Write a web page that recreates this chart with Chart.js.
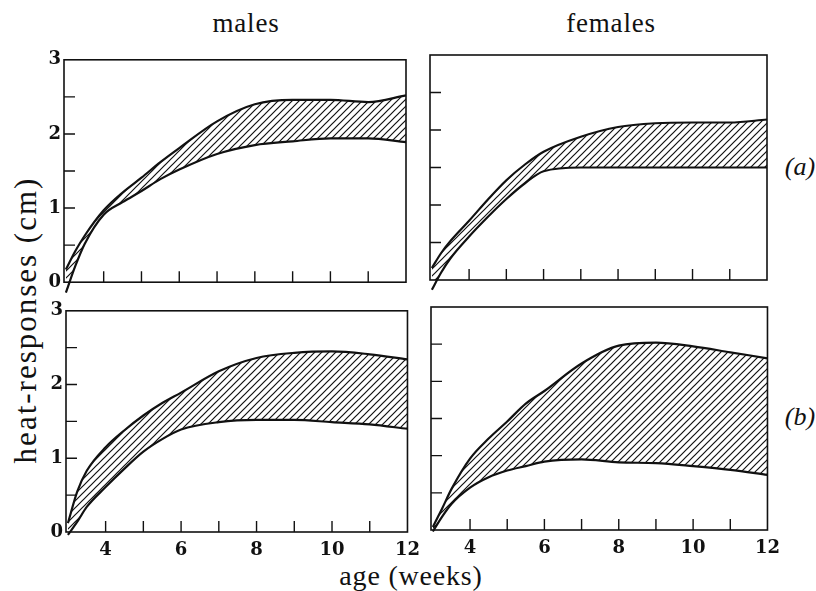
<!DOCTYPE html>
<html>
<head>
<meta charset="utf-8">
<script src="https://cdn.jsdelivr.net/npm/chart.js@4.4.1/dist/chart.umd.min.js"></script>
<style>
  html, body { margin: 0; padding: 0; background: #fff; }
  #wrap { position: relative; width: 816px; height: 591px; overflow: hidden; }
  canvas { position: absolute; }
  .txt { position: absolute; font-family: "Liberation Serif", "Times New Roman", serif; color: #111; white-space: nowrap; line-height: 1; }
</style>
</head>
<body>
<div id="wrap">
  <div class="txt" style="left:246px; top:10px; font-size:27px; transform:translateX(-50%); letter-spacing:0.8px;">males</div>
  <div class="txt" style="left:611px; top:10px; font-size:27px; transform:translateX(-50%); letter-spacing:0.8px;">females</div>
  <div class="txt" style="left:25px; top:320px; font-size:31px; transform:translate(-50%,-50%) rotate(-90deg); letter-spacing:2px;">heat-responses (cm)</div>
  <div class="txt" style="left:411px; top:562px; font-size:28px; transform:translateX(-50%); letter-spacing:0.8px;">age (weeks)</div>
  <div class="txt" style="left:800px; top:167px; font-size:26px; font-style:italic; transform:translate(-50%,-50%);">(a)</div>
  <div class="txt" style="left:800px; top:417px; font-size:26px; font-style:italic; transform:translate(-50%,-50%);">(b)</div>

  <canvas id="c-ma" width="422" height="250" style="left:4px; top:46px;"></canvas>
  <canvas id="c-fa" width="367" height="249" style="left:420px; top:43px;"></canvas>
  <canvas id="c-mb" width="422" height="267" style="left:6px; top:297px;"></canvas>
  <canvas id="c-fb" width="367" height="267" style="left:421px; top:295px;"></canvas>
</div>

<script>
// ages (weeks) at which the band edges were read
const weeks = [3, 3.25, 3.5, 4, 4.5, 5, 5.5, 6, 7, 8, 9, 10, 11, 12];

// (a) males
const malesA_upper = [0.17, 0.42, 0.63, 0.97, 1.21, 1.41, 1.62, 1.81, 2.17, 2.40, 2.46, 2.46, 2.43, 2.52];
const malesA_lower = [-0.14, 0.22, 0.52, 0.91, 1.08, 1.23, 1.39, 1.52, 1.73, 1.85, 1.90, 1.94, 1.94, 1.89];
// (a) females
const femalesA_upper = [0.16, 0.36, 0.52, 0.79, 1.07, 1.33, 1.54, 1.71, 1.91, 2.04, 2.09, 2.10, 2.10, 2.14];
const femalesA_lower = [-0.13, 0.10, 0.29, 0.58, 0.84, 1.08, 1.29, 1.45, 1.50, 1.50, 1.50, 1.50, 1.50, 1.50];
// (b) males
const malesB_upper = [0.12, 0.55, 0.83, 1.15, 1.38, 1.58, 1.75, 1.89, 2.18, 2.36, 2.43, 2.45, 2.41, 2.34];
const malesB_lower = [-0.04, 0.14, 0.34, 0.61, 0.86, 1.09, 1.26, 1.39, 1.49, 1.52, 1.52, 1.49, 1.46, 1.40];
// (b) females
const femalesB_upper = [0.04, 0.29, 0.55, 0.96, 1.23, 1.46, 1.70, 1.87, 2.24, 2.48, 2.52, 2.47, 2.39, 2.31];
const femalesB_lower = [-0.02, 0.18, 0.35, 0.57, 0.71, 0.80, 0.86, 0.92, 0.95, 0.91, 0.90, 0.86, 0.81, 0.74];

// tick labels and tick marks
const xLabels = [4, 6, 8, 10, 12];
const xTickMarks = [4, 5, 6, 7, 8, 9, 10, 11];
const yLabels = [0, 1, 2, 3];
const yTickMarks = [0.5, 1, 1.5, 2, 2.5];

const INK = '#111';

// diagonal "////" hatching for the band
function makeHatch(s) {
  const c = document.createElement('canvas');
  c.width = c.height = s;
  const g = c.getContext('2d');
  g.strokeStyle = INK;
  g.lineWidth = 1.2;
  g.beginPath();
  g.moveTo(0, s); g.lineTo(s, 0);
  g.moveTo(-s / 2, s / 2); g.lineTo(s / 2, -s / 2);
  g.moveTo(s / 2, s * 1.5); g.lineTo(s * 1.5, s / 2);
  g.stroke();
  return g.createPattern(c, 'repeat');
}
const hatch = makeHatch(7);

// frame + inward tick marks
const framePlugin = {
  id: 'frame',
  afterDatasetsDraw(chart) {
    const { ctx, chartArea: a, scales } = chart;
    ctx.save();
    ctx.strokeStyle = INK;
    ctx.lineWidth = 1.6;
    ctx.strokeRect(a.left, a.top, a.right - a.left, a.bottom - a.top);
    ctx.lineWidth = 1.4;
    ctx.beginPath();
    yTickMarks.forEach(v => {
      const y = scales.y.getPixelForValue(v);
      ctx.moveTo(a.left, y); ctx.lineTo(a.left + 11, y);
    });
    xTickMarks.forEach(v => {
      const x = scales.x.getPixelForValue(v);
      ctx.moveTo(x, a.bottom); ctx.lineTo(x, a.bottom - 11);
    });
    ctx.stroke();
    ctx.restore();
  }
};

function band(upper, lower) {
  const line = {
    borderColor: INK,
    borderWidth: 2.2,
    pointRadius: 0,
    cubicInterpolationMode: 'monotone',
    clip: false
  };
  return [
    Object.assign({ data: weeks.map((w, i) => ({ x: w, y: upper[i] })), fill: '+1', backgroundColor: hatch }, line),
    Object.assign({ data: weeks.map((w, i) => ({ x: w, y: lower[i] })), fill: false }, line)
  ];
}

function makePanel(id, upper, lower, o) {
  new Chart(document.getElementById(id), {
    type: 'line',
    data: { datasets: band(upper, lower) },
    plugins: [framePlugin],
    options: {
      responsive: false,
      animation: false,
      events: [],
      layout: { padding: { top: 12, right: 20, left: 0, bottom: 0 } },
      plugins: { legend: { display: false }, tooltip: { enabled: false } },
      scales: {
        x: {
          type: 'linear', min: 2.95, max: 12,
          grid: { display: false, drawTicks: false },
          border: { display: false },
          afterBuildTicks: s => { s.ticks = xLabels.map(v => ({ value: v })); },
          afterFit: s => { s.height = o.bottom; },
          ticks: {
            display: o.xLabels, color: INK, padding: 8, maxRotation: 0, autoSkip: false,
            font: { family: 'DejaVu Serif', weight: 'bold', size: 18 }
          }
        },
        y: {
          min: 0, max: 3,
          grid: { display: false, drawTicks: false },
          border: { display: false },
          afterBuildTicks: s => { s.ticks = yLabels.map(v => ({ value: v })); },
          afterFit: s => { s.width = o.left; },
          ticks: {
            display: o.yLabels, color: INK, padding: 3,
            font: { family: 'DejaVu Serif', weight: 'bold', size: 18 }
          }
        }
      }
    }
  });
}

makePanel('c-ma', malesA_upper, malesA_lower, { left: 60, bottom: 10, xLabels: false, yLabels: true });
makePanel('c-fa', femalesA_upper, femalesA_lower, { left: 10, bottom: 12, xLabels: false, yLabels: false });
makePanel('c-mb', malesB_upper, malesB_lower, { left: 60, bottom: 32, xLabels: true, yLabels: true });
makePanel('c-fb', femalesB_upper, femalesB_lower, { left: 10, bottom: 32, xLabels: true, yLabels: false });
</script>
</body>
</html>
